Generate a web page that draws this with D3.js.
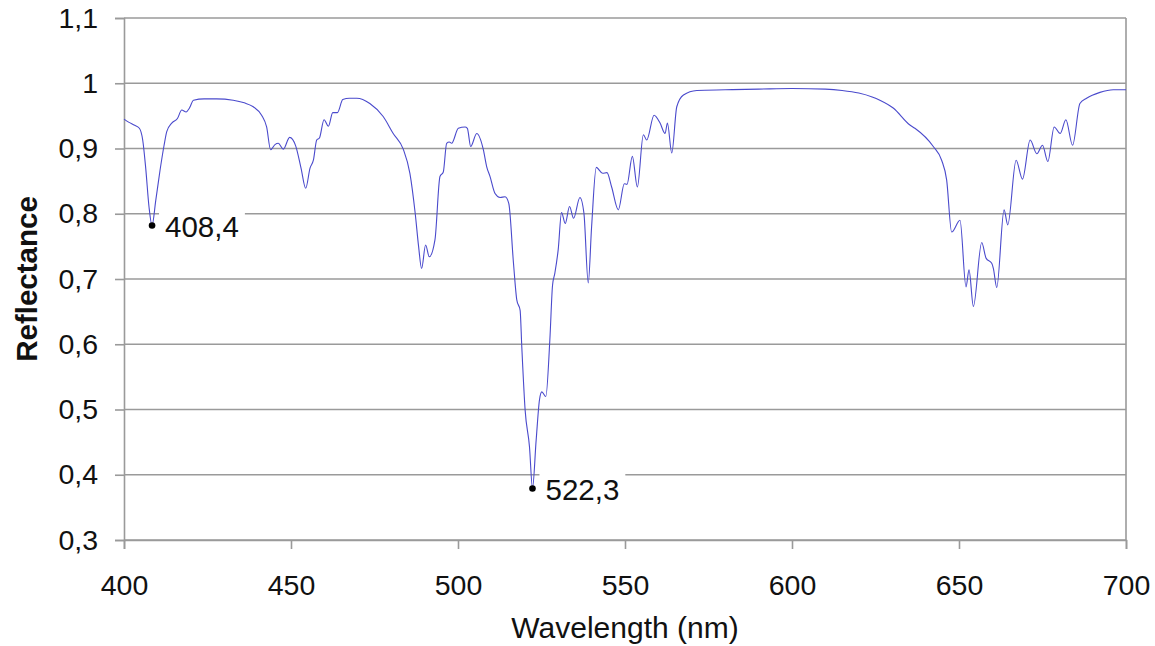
<!DOCTYPE html>
<html><head><meta charset="utf-8">
<script src="https://cdn.jsdelivr.net/npm/d3@7"></script>
<style>body{margin:0;background:#fff}svg{display:block}text{font-family:"Liberation Sans",Arial,sans-serif}</style>
</head><body><svg id="c" width="1155" height="646"></svg>
<script>
const wavelength = [400,401.5,403,404.6,405.6,406.5,407.5,408.4,409.5,410.8,412,412.8,414.3,416,417.3,418.6,419.6,420.8,424,427.7,432.7,436,438.7,441.2,442.7,443.9,445.2,446.2,447.7,449.6,451.4,453,454.4,455.7,456.7,457.7,458.5,459.9,461.2,462.5,463.9,465.5,467.5,469.7,473.6,477.6,480.6,483.6,485.6,487.2,488.2,489.1,490.3,491.4,493.1,494.6,495.6,496.6,497.4,498.1,500.1,502.1,502.8,503.8,505.6,507.6,508.6,509.6,511.1,512.6,514.1,515.2,516.6,517.6,518.6,519.1,520.1,521.4,522.3,523.4,524.4,525.1,526.3,527.5,528.3,529,530,531,532.1,533.4,534.6,536.5,537.7,539,540,541.4,543.3,544.6,546,548,549.8,550.6,552.2,553.7,555.5,556.5,558.7,560.5,562,562.7,564,565.5,567.5,571.5,580,590,600,610,615,620,624,626.3,630.3,635.3,636.8,642.3,644.8,646.3,647.8,650.3,652.1,653,654.3,656.8,658.1,659.8,660.3,661.3,663.5,664.6,667.1,669,671.3,673.3,675,676.6,678.5,680.3,682,684,686.2,688.2,692.2,696.2,700];
const reflectance = [0.945,0.940,0.936,0.931,0.913,0.870,0.810,0.782,0.820,0.867,0.905,0.926,0.939,0.946,0.959,0.956,0.962,0.974,0.976,0.976,0.974,0.970,0.964,0.951,0.933,0.898,0.906,0.908,0.899,0.917,0.904,0.870,0.839,0.870,0.882,0.913,0.916,0.944,0.934,0.955,0.955,0.975,0.977,0.977,0.969,0.949,0.923,0.899,0.862,0.800,0.750,0.716,0.752,0.734,0.760,0.857,0.864,0.908,0.910,0.908,0.931,0.933,0.931,0.903,0.923,0.898,0.872,0.857,0.831,0.825,0.826,0.816,0.725,0.668,0.652,0.596,0.499,0.443,0.379,0.453,0.515,0.527,0.520,0.607,0.690,0.709,0.745,0.802,0.785,0.811,0.793,0.825,0.801,0.694,0.780,0.871,0.862,0.863,0.841,0.806,0.846,0.845,0.888,0.841,0.921,0.913,0.951,0.939,0.923,0.939,0.893,0.964,0.982,0.989,0.990,0.991,0.992,0.991,0.989,0.985,0.979,0.974,0.962,0.936,0.931,0.903,0.882,0.852,0.772,0.790,0.688,0.714,0.658,0.756,0.732,0.724,0.716,0.687,0.806,0.783,0.882,0.853,0.913,0.892,0.905,0.880,0.933,0.923,0.944,0.905,0.969,0.977,0.986,0.990,0.990];
const xTicks = [400,450,500,550,600,650,700];
const yTicks = [0.3,0.4,0.5,0.6,0.7,0.8,0.9,1.0,1.1];
const annotWavelength = [408.4, 522.3];
const annotReflectance = [0.782, 0.379];
const annotText = ["408,4", "522,3"];

const svg = d3.select("#c");
const L = 124, R = 1126, T = 18, B = 540;
const x = d3.scaleLinear().domain([400,700]).range([L,R]);
const y = d3.scaleLinear().domain([0.3,1.1]).range([B,T]);
const fmt = d => (Math.round(d*10)/10).toString().replace(".", ",");
const grid = "#9a9a9a";
const FS = "28.5px";

svg.append("g").selectAll("line").data(yTicks).join("line")
  .attr("x1", L).attr("x2", R).attr("y1", d=>y(d)).attr("y2", d=>y(d))
  .attr("stroke", grid).attr("stroke-width", 1.6);
svg.append("line").attr("x1",R).attr("x2",R).attr("y1",T).attr("y2",B).attr("stroke",grid).attr("stroke-width",1.6);

const yAxis = svg.append("g").attr("transform",`translate(${L},0)`)
  .call(d3.axisLeft(y).tickValues(yTicks).tickFormat(fmt).tickSize(9).tickPadding(17));
const xAxis = svg.append("g").attr("transform",`translate(0,${B})`)
  .call(d3.axisBottom(x).tickValues(xTicks).tickSize(9).tickPadding(26));
[yAxis,xAxis].forEach(a=>{
  a.select(".domain").attr("stroke",grid).attr("stroke-width",1.6);
  a.selectAll(".tick line").attr("stroke",grid).attr("stroke-width",1.6);
  a.selectAll(".tick text").attr("fill","#111").style("font-size",FS).style("font-family","'Liberation Sans',Arial,sans-serif");
});

const ann = annotText.map((t,i)=>({t, wl:annotWavelength[i], r:annotReflectance[i]}));
const boxes = svg.append("g").selectAll("rect").data(ann).join("rect").attr("fill","#fff");

svg.append("path").datum(wavelength.map((w,i)=>[w,reflectance[i]]))
  .attr("fill","none").attr("stroke","#4a4acc").attr("stroke-width",1.1)
  .attr("d", d3.line().x(d=>x(d[0])).y(d=>y(d[1])).curve(d3.curveMonotoneX));

svg.append("g").selectAll("circle").data(ann).join("circle")
  .attr("cx", d=>x(d.wl)).attr("cy", d=>y(d.r)).attr("r",3.3).attr("fill","#000");
const labels = svg.append("g").selectAll("text").data(ann).join("text")
  .attr("x", d=>x(d.wl)+13).attr("y", d=>y(d.r)+11.5)
  .style("font-size","29.5px").attr("fill","#111").text(d=>d.t);
labels.each(function(d,i){
  const bb = this.getBBox();
  d3.select(boxes.nodes()[i]).attr("x", x(d.wl)+7).attr("y", bb.y-4)
    .attr("width", bb.x+bb.width+6-(x(d.wl)+7)).attr("height", bb.height+6);
});

svg.append("text").attr("x",(L+R)/2).attr("y",638).attr("text-anchor","middle")
  .style("font-size","30px").attr("fill","#111").text("Wavelength (nm)");
svg.append("text").attr("transform",`translate(37,${(T+B)/2}) rotate(-90)`).attr("text-anchor","middle")
  .style("font-size","29.5px").style("font-weight","bold").attr("fill","#111").text("Reflectance");
</script></body></html>
